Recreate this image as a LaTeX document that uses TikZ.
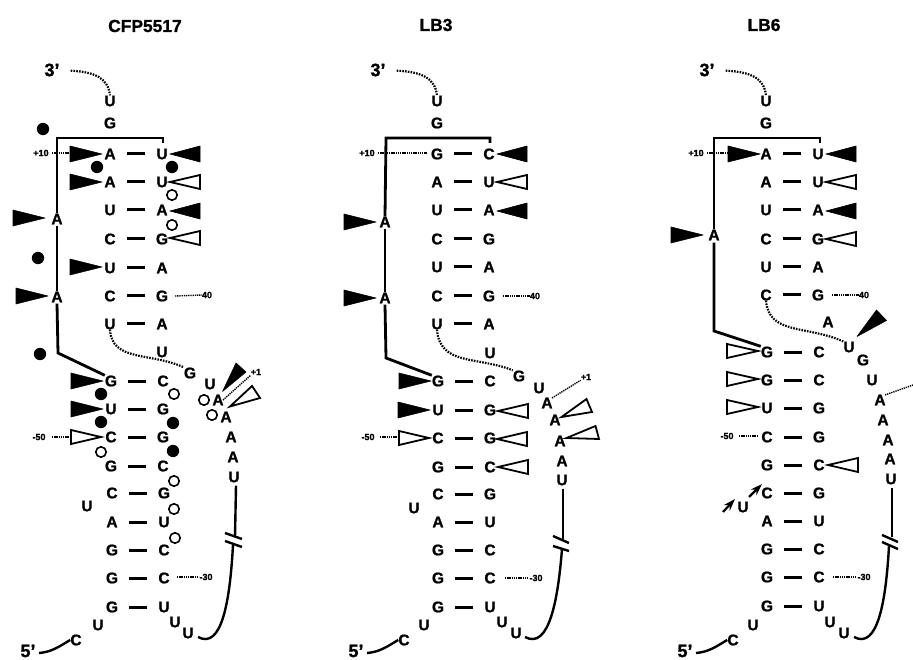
\documentclass[tikz,border=0pt]{standalone}
\usepackage{fontspec}
\setmainfont{Liberation Sans}[BoldFeatures={FakeBold=1.2}]
\usetikzlibrary{arrows.meta}
\tikzset{
  base/.style={font=\fontsize{15.5}{15.5}\selectfont\bfseries, inner sep=0pt},
  endlab/.style={font=\fontsize{18}{18}\selectfont\bfseries, inner sep=0pt},
  title/.style={font=\fontsize{17.4}{18}\selectfont\bfseries, inner sep=0pt},
  tiny/.style={font=\fontsize{9}{9}\selectfont\bfseries, inner sep=0pt},
  pairbar/.style={line width=3pt, shorten <=17pt, shorten >=17pt},
  thickline/.style={line width=2.8pt, line join=miter},
  thinline/.style={line width=2.4pt},
  breakline/.style={line width=2.4pt},
  dotline/.style={line width=2.2pt, dash pattern=on 1.6pt off 1.2pt},
  tickline/.style={line width=1.4pt, dash pattern=on 1.3pt off .9pt},
  solidtri/.style={fill=black, draw=black, line width=.6pt, line join=round},
  opentri/.style={fill=white, draw=black, line width=1.8pt, line join=miter},
  fulldot/.style={fill=black},
  opendot/.style={draw=black, fill=white, line width=1.6pt},
  smallarrow/.style={line width=2.2pt, -{Stealth[length=12pt,width=8pt]}}
}
\begin{document}
\begin{tikzpicture}[x=1pt, y=-1pt]
  \useasboundingbox (0,0) rectangle (913,660);
  % CFP5517
  \begin{scope}[shift={(0,0)}]
    \node[title] (p1title) at (145,26) {CFP5517};
    \foreach [count=\i] \y/\x/\la/\lb in {154/110/A/U,182/110/A/U,210/110/U/A,239/110/C/G,268/110/U/A,296/110/C/G,324/110/U/A,%
                                          381/111/G/C,409/111/U/G,437/111/C/G,466/111/G/C,493/112/C/G,522/112/A/U,550/112/G/C,578/112/G/C,607/112/G/U}{
      \node[base] (p1L\i) at (\x,\y) {\la};
      \node[base] (p1R\i) at (\x+52,\y) {\lb};
      \draw[pairbar] (p1L\i.center) -- (p1R\i.center);
    }
    \foreach \n/\x/\y/\lab in {ta/110/101/U,tb/110/123/G,ha/57/219/A,hb/57/297/A,ja/162/352/U,jb/190/373/G,jc/210/384/U,%
                               jd/218/400/A,je/226/417/A,jf/231/437/A,jg/233/457/A,jh/234/477/U,bu/87/506/U,%
                               ua/175/622/U,ub/188/633/U,uc/98/625/U,cc/76/640/C}
      \node[base] (p1\n) at (\x,\y) {\lab};
    \node[endlab] (p1three) at (52,70) {3'};
    \node[endlab] (p1five) at (28,651) {5'};
    \node[tiny] (p1plusten) at (41,153) {+10};
    \node[tiny] (p1forty) at (207,295) {40};
    \node[tiny] (p1fifty) at (39,437) {-50};
    \node[tiny] (p1thirty) at (206,577) {-30};
    \node[tiny] (p1plusone) at (256,372) {+1};
    \draw[dotline, shorten <=11pt] (p1three.east) .. controls (95,72) and (108,78) .. (p1ta.north);
    \draw[dotline] (p1L7.south) .. controls (112,362) and (150,352) .. (p1jb.north west);
    \draw[thinline] (39,653) .. controls (52,652) and (60,646) .. (p1cc.west);
    \draw[thinline] (p1jh.south) ++(2,3) -- (235,537);
    \draw[thinline] (233,545) .. controls (230,600) and (222,650) .. (198,637);
    \draw[breakline] (225,533) -- (242,539) (225,541) -- (242,547);
    \draw[thickline] (163,143) -- (163,138) -- (57,138) -- (p1ha.north);
    \draw[thickline] (p1ha.south) ++(0,1) -- (p1hb.north);
    \draw[thickline] (p1hb.south) ++(0,1) -- (58,353) -- (p1L8.north west);
    \foreach \x/\y in {102/154,102/182,45/218,102/267,48/296,103/381,103/409}
      \path[solidtri] (\x,\y) -- ++(-32,-8) -- ++(0,16) -- cycle;
    \path[opentri] (101,437) -- ++(-30,-7) -- ++(0,14) -- cycle;
    \foreach \x/\y in {170/154,170/211}
      \path[solidtri] (\x,\y) -- ++(30,-8) -- ++(0,16) -- cycle;
    \foreach \x/\y in {170/182,170/238}
      \path[opentri] (\x,\y) -- ++(30,-7) -- ++(0,14) -- cycle;
    \path[solidtri] (222.5,391.5) -- (236,363) -- (246,372) -- cycle;
    \path[opentri] (230,406.5) -- (252,386) -- (260,398) -- cycle;
    \draw[tickline] (p1plusten) ++(11,0) -- (70,153);
    \draw[tickline] (175,296) -- (p1forty.west);
    \draw[tickline] (52,437) -- (71,437);
    \draw[tickline] (177,577) -- (199,577);
    \draw[tickline] (223,400) -- (p1plusone.south west);
    \foreach \x/\y in {43/129,97/167,172/167,38/258,40/354,101/394,173/423,101/422,173/451}
      \fill[fulldot] (\x,\y) circle (6.2);
    \foreach \x/\y in {172/195,172/225,174/394,101/452,174/481,174/509,175/538,204/400,212/415}
      \path[opendot] (\x,\y) circle (5.2);
  \end{scope}
  % LB3
  \begin{scope}[shift={(327,0)}]
    \node[title] (p2title) at (109,25) {LB3};
    \foreach [count=\i] \y/\x/\la/\lb in {154/110/G/C,182/110/A/U,210/110/U/A,239/110/C/G,267/110/U/A,296/110/C/G,324/110/U/A,%
                                          381/111/G/C,410/111/U/G,438/111/C/G,467/111/G/C,494/111/C/G,522/111/A/U,550/111/G/C,578/111/G/C,607/111/G/U}{
      \node[base] (p2L\i) at (\x,\y) {\la};
      \node[base] (p2R\i) at (\x+52,\y) {\lb};
      \draw[pairbar] (p2L\i.center) -- (p2R\i.center);
    }
    \foreach \n/\x/\y/\lab in {ta/110/101/U,tb/110/123/G,ha/58/222/A,hb/58/298/A,ja/163/353/U,jb/192/376/G,jc/212/388/U,%
                               jd/220/403/A,je/228/420/A,jf/233/441/A,jg/235/461/A,jh/235/480/U,bu/87/508/U,%
                               ua/175/622/U,ub/189/633/U,uc/97/625/U,cc/77/640/C}
      \node[base] (p2\n) at (\x,\y) {\lab};
    \node[endlab] (p2three) at (51,70) {3'};
    \node[endlab] (p2five) at (29,651) {5'};
    \node[tiny] (p2plusten) at (40,153) {+10};
    \node[tiny] (p2forty) at (208,296) {40};
    \node[tiny] (p2fifty) at (41,437) {-50};
    \node[tiny] (p2thirty) at (209,578) {-30};
    \node[tiny] (p2plusone) at (259,377) {+1};
    \draw[dotline, shorten <=11pt] (p2three.east) .. controls (95,72) and (108,78) .. (p2ta.north);
    \draw[dotline] (p2L7.south) .. controls (113,366) and (150,356) .. (p2jb.north west);
    \draw[thinline] (40,653) .. controls (53,652) and (61,646) .. (p2cc.west);
    \draw[thinline] (p2jh.south) ++(1,3) -- (236,539);
    \draw[thinline] (235,549) .. controls (231,600) and (222,650) .. (198,637);
    \draw[breakline] (226,536) -- (242,543) (226,546) -- (242,551);
    \draw[thickline] (163,143) -- (163,138) -- (59,138) -- (p2ha.north);
    \draw[thickline] (p2ha.south) ++(0,1) -- (p2hb.north);
    \draw[thickline] (p2hb.south) ++(0,1) -- (59,358) -- (p2L8.north west);
    \foreach \x/\y in {49/222,49/298,104/381,103/410}
      \path[solidtri] (\x,\y) -- ++(-32,-8) -- ++(0,16) -- cycle;
    \path[opentri] (102,438) -- ++(-30,-7) -- ++(0,14) -- cycle;
    \foreach \x/\y in {170/154,170/211}
      \path[solidtri] (\x,\y) -- ++(30,-8) -- ++(0,16) -- cycle;
    \foreach \x/\y in {170/182,171/411,170/439,171/467}
      \path[opentri] (\x,\y) -- ++(30,-7) -- ++(0,14) -- cycle;
    \path[opentri] (234.5,417) -- (259.5,399) -- (265,412) -- cycle;
    \path[opentri] (239.5,438) -- (268.5,426) -- (272,439) -- cycle;
    \draw[tickline] (p2plusten) ++(11,0) -- (100,153);
    \draw[tickline] (176,296) -- (p2forty.west);
    \draw[tickline] (53,437) -- (71,437);
    \draw[tickline] (178,578) -- (201,578);
    \draw[tickline] (225,398) -- (p2plusone.south west);
  \end{scope}
  % LB6
  \begin{scope}[shift={(656,0)}]
    \node[title] (p3title) at (108,25) {LB6};
    \foreach [count=\i] \y/\x/\la/\lb in {154/110/A/U,182/110/A/U,210/110/U/A,239/110/C/G,267/110/U/A,295/110/C/G,%
                                          352/111/G/C,380/111/G/C,408/111/U/G,437/111/C/G,465/111/G/C,493/111/C/G,521/111/A/U,549/111/G/C,577/111/G/C,606/111/G/U}{
      \node[base] (p3L\i) at (\x,\y) {\la};
      \node[base] (p3R\i) at (\x+52,\y) {\lb};
      \draw[pairbar] (p3L\i.center) -- (p3R\i.center);
    }
    \foreach \n/\x/\y/\lab in {ta/110/101/U,tb/110/123/G,ha/58/235/A,ja/172/322/A,jb/193/347/U,jc/207/360/G,jd/216/380/U,%
                               je/224/400/A,jf/227/420/A,jg/232/440/A,jh/234/459/A,ji/235/479/U,bu/87/507/U,%
                               ua/174/622/U,ub/188/633/U,uc/97/625/U,cc/77/640/C}
      \node[base] (p3\n) at (\x,\y) {\lab};
    \node[endlab] (p3three) at (51,70) {3'};
    \node[endlab] (p3five) at (29,651) {5'};
    \node[tiny] (p3plusten) at (40,153) {+10};
    \node[tiny] (p3forty) at (208,295) {40};
    \node[tiny] (p3fifty) at (71,436) {-50};
    \node[tiny] (p3thirty) at (208,577) {-30};
    \draw[dotline, shorten <=11pt] (p3three.east) .. controls (95,72) and (108,78) .. (p3ta.north);
    \draw[dotline] (p3L6.south) .. controls (113,335) and (150,325) .. (p3jb.north west);
    \draw[thinline] (40,653) .. controls (53,652) and (61,646) .. (p3cc.west);
    \draw[thinline] (p3ji.south) ++(1,3) -- (236,537);
    \draw[thinline] (233,546) .. controls (230,600) and (222,650) .. (198,637);
    \draw[breakline] (226,535) -- (242,542) (226,542) -- (242,549);
    \draw[thickline] (164,143) -- (164,138) -- (58,138) -- (p3ha.north);
    \draw[thickline] (p3ha.south) ++(0,2) -- (58,331) -- (p3L7.north west);
    \foreach \x/\y in {104/154,47/235}
      \path[solidtri] (\x,\y) -- ++(-32,-8) -- ++(0,16) -- cycle;
    \foreach \x/\y in {102/351,102/379,102/407}
      \path[opentri] (\x,\y) -- ++(-31,-7) -- ++(0,14) -- cycle;
    \foreach \x/\y in {170/154,170/211}
      \path[solidtri] (\x,\y) -- ++(30,-8) -- ++(0,16) -- cycle;
    \foreach \x/\y in {170/182,170/239,172/465}
      \path[opentri] (\x,\y) -- ++(30,-7) -- ++(0,14) -- cycle;
    \path[solidtri] (201,336.5) -- (220.5,310) -- (230.5,320.5) -- cycle;
    \draw[tickline] (p3plusten) ++(11,0) -- (71,153);
    \draw[tickline] (176,295) -- (p3forty.west);
    \draw[tickline] (83,436) -- (102,436);
    \draw[tickline] (177,577) -- (200,577);
    \draw[tickline] (229,395) -- (257,385);
    \coordinate (p3tailA) at (67,512);
    \coordinate (p3headA) at (79,499);
    \coordinate (p3tailB) at (93,497);
    \coordinate (p3headB) at (106,484);
    \draw[smallarrow] (p3tailA) -- (p3headA);
    \draw[smallarrow] (p3tailB) -- (p3headB);
  \end{scope}
\end{tikzpicture}
\end{document}
